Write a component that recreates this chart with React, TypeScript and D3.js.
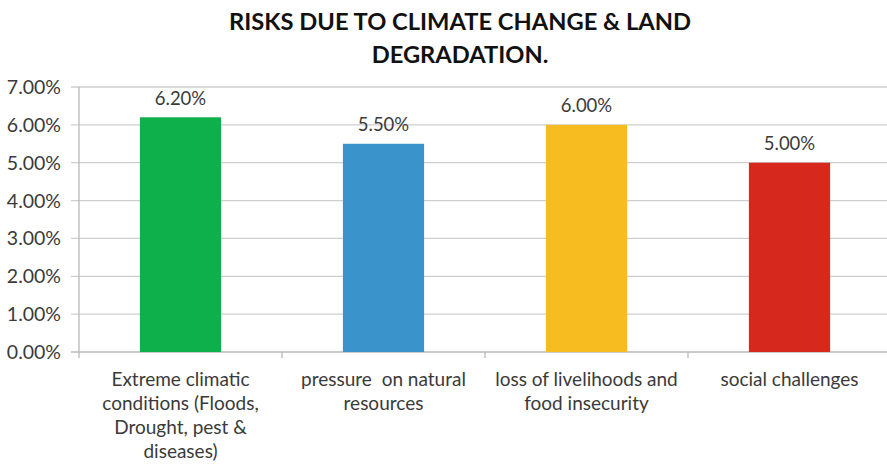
import React, { useEffect } from "react";
import * as d3 from "d3";

const categories: string[][] = [
  ["Extreme climatic", "conditions (Floods,", "Drought, pest &", "diseases)"],
  ["pressure  on natural", "resources"],
  ["loss of livelihoods and", "food insecurity"],
  ["social challenges"],
];
const values: number[] = [0.062, 0.055, 0.06, 0.05];
const colors: string[] = ["#0db04b", "#3b93cc", "#f7bc1f", "#d7281e"];
const yTicks: number[] = [0, 0.01, 0.02, 0.03, 0.04, 0.05, 0.06, 0.07];
const titleLines: string[] = ["RISKS DUE TO CLIMATE CHANGE & LAND", "DEGRADATION."];

const W = 887;
const H = 465;
const margin = { left: 79, right: 891, top: 87, bottom: 352 };
const FONT = "Lato, 'Open Sans', sans-serif";

export default function App() {
  useEffect(() => {
    document.body.style.margin = "0";
  }, []);

  const x = d3
    .scaleBand<number>()
    .domain(d3.range(values.length))
    .range([margin.left, margin.right])
    .paddingInner(0.6)
    .paddingOuter(0.3);
  const step = x.step();
  const y = d3.scaleLinear().domain([0, 0.07]).range([margin.bottom, margin.top]);
  const fmt = d3.format(".2%");

  return (
    <svg width={W} height={H} style={{ position: "absolute", left: 0, top: 0, display: "block", background: "#fff" }}>
      {titleLines.map((t, i) => (
        <text
          key={i}
          x={460}
          y={30 + i * 33}
          textAnchor="middle"
          fontFamily={FONT}
          fontWeight={700}
          fontSize={23.7}
          fill="#111"
        >
          {t}
        </text>
      ))}
      {yTicks.map((t) => (
        <g key={t}>
          <line x1={margin.left - 8} x2={W} y1={y(t)} y2={y(t)} stroke={t === 0 ? "#b8b8b8" : "#cfcfcf"} strokeWidth={1.3} />
          <text x={61} y={y(t)} dy="0.36em" textAnchor="end" fontFamily={FONT} fontSize={19.5} fill="#3a3a3a">
            {fmt(t)}
          </text>
        </g>
      ))}
      <line x1={margin.left} x2={margin.left} y1={margin.top} y2={margin.bottom + 6} stroke="#b8b8b8" strokeWidth={1.3} />
      {values.map((_, i) => {
        const bx = margin.left + step * (i + 1);
        return <line key={"t" + i} x1={bx} x2={bx} y1={margin.bottom} y2={margin.bottom + 6} stroke="#b8b8b8" strokeWidth={1.3} />;
      })}
      {values.map((v, i) => (
        <g key={i}>
          <rect x={x(i)!} y={y(v)} width={x.bandwidth()} height={y(0) - y(v)} fill={colors[i]} />
          <text
            x={x(i)! + x.bandwidth() / 2}
            y={y(v) - 12.5}
            textAnchor="middle"
            fontFamily={FONT}
            fontSize={18.5}
            fill="#3a3a3a"
          >
            {fmt(v)}
          </text>
          {categories[i].map((line, j) => (
            <text
              key={j}
              x={x(i)! + x.bandwidth() / 2}
              y={386 + j * 24}
              textAnchor="middle"
              fontFamily={FONT}
              fontSize={19}
              fill="#3a3a3a"
              style={{ whiteSpace: "pre" }}
            >
              {line}
            </text>
          ))}
        </g>
      ))}
    </svg>
  );
}
